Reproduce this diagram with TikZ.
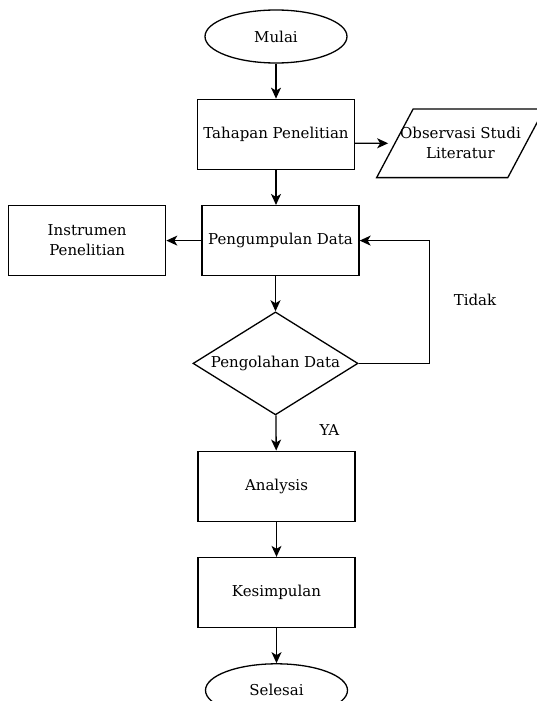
\documentclass[tikz,border=0pt]{standalone}
\usepackage{fontspec}
\setmainfont{DejaVu Serif}
\usetikzlibrary{arrows.meta,positioning,shapes.geometric}
\tikzset{
    %Define standard arrow tip
    >={Stealth[length=11pt,width=10pt,inset=3pt]},
    %Define style for boxes
    kotak/.style={
           rectangle,
           draw=black, line width=1.3pt,
           minimum width=157pt,
           minimum height=70pt,
           align=center},
    %Define style for start and end
    ujung/.style={
           ellipse,
           draw=black, line width=1.3pt,
           minimum width=142pt,
           minimum height=53pt},
    %Define style for the decision
    cabang/.style={
           diamond, aspect=1.6,
           draw=black, line width=1.3pt,
           minimum width=165pt,
           minimum height=103pt,
           inner sep=0pt},
    %Define style for input
    miring/.style={
           trapezium,
           trapezium left angle=62,
           trapezium right angle=118,
           trapezium stretches body,
           draw=black, line width=1.3pt,
           inner xsep=-13pt,
           inner ysep=18.5pt,
           align=center},
    % Define arrow style
    pil/.style={
           ->,
           line width=1.3pt}
}
\begin{document}
\begin{tikzpicture}[node distance=35pt, auto, font=\fontsize{15}{20}\selectfont]
    \useasboundingbox (0,0) rectangle (536pt,-701pt);
    \node[ujung] (mulai) at (276pt,-36.5pt) {Mulai};
    \node[kotak, below=of mulai] (tahapan) {Tahapan Penelitian};
    \node[miring, right=39pt of tahapan, yshift=-9pt] (observasi) {Observasi Studi\\Literatur};
    \node[kotak, below=of tahapan, xshift=4.5pt] (kumpul) {Pengumpulan Data};
    \node[kotak, left=of kumpul] (instrumen) {Instrumen\\Penelitian};
    \node[cabang, below=of kumpul, xshift=-5pt] (olah) {Pengolahan Data};
    \node[kotak, below=of olah, xshift=1pt] (analysis) {Analysis};
    \node[kotak, below=of analysis] (kesimpulan) {Kesimpulan};
    \node[ujung, below=of kesimpulan] (selesai) {Selesai};
    \draw[pil] (mulai) -- (tahapan);
    \draw[pil, shorten >=6pt] (tahapan.east |- observasi) -- (observasi);
    \draw[pil] (tahapan.south) -- (tahapan.south |- kumpul.north);
    \draw[pil] (kumpul) -- (instrumen);
    \draw[pil] (kumpul.south -| olah.north) -- (olah.north);
    \draw[pil] (olah.east) -- ++(71pt,0) |- (kumpul.east);
    \draw[pil] (olah) -- (analysis);
    \draw[pil] (analysis) -- (kesimpulan);
    \draw[pil] (kesimpulan) -- (selesai);
    \node (tidak) at (475pt,-300pt) {Tidak};
    \node[xshift=54pt, yshift=-14pt] (ya) at (olah.south) {YA};
\end{tikzpicture}
\end{document}
